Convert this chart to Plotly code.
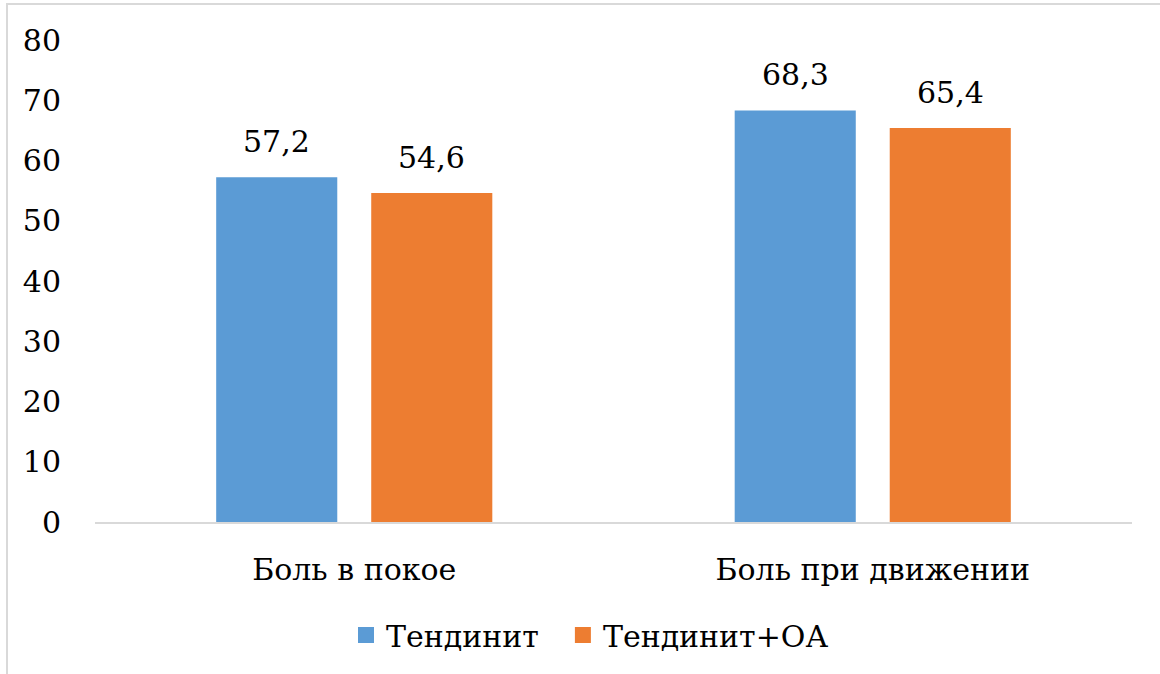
import plotly.graph_objects as go

categories = ["Боль в покое", "Боль при движении"]
series_names = ["Тендинит", "Тендинит+ОА"]
tendinitis = [57.2, 68.3]
tendinitis_oa = [54.6, 65.4]
y_ticks = [0, 10, 20, 30, 40, 50, 60, 70, 80]

colors = ["#5B9BD5", "#ED7D31"]
font_family = "DejaVu Serif"
fsize = 30

W, H = 1160, 674
L, R, T, B = 95, 28, 40, 152

fig = go.Figure()
series = [tendinitis, tendinitis_oa]
for name, vals, col in zip(series_names, series, colors):
    fig.add_trace(go.Bar(
        x=categories, y=vals, name=name, showlegend=False,
        marker=dict(color=col, line=dict(width=0)),
    ))

# legend entries with larger square swatches; extra padding between entries
for i, (name, col) in enumerate(zip(series_names, colors)):
    pad = "\u00a0\u00a0" if i < len(series_names) - 1 else ""
    fig.add_trace(go.Scatter(
        x=[None], y=[None], name=name + pad, mode="markers",
        marker=dict(symbol="square", size=16, color=col),
    ))

# value labels above each bar
slot_px = 77.5
for i, vals in enumerate(series):
    shift = -slot_px if i == 0 else slot_px
    for cat, v in zip(categories, vals):
        fig.add_annotation(
            x=cat, y=v, xref="x", yref="y", text=f"{v:.1f}".replace(".", ","),
            showarrow=False, xshift=shift, yanchor="bottom", yshift=16,
            font=dict(family=font_family, size=fsize, color="#000000"),
        )

# outer chart frame (pixel positions mapped to paper coordinates)
pw, ph = W - L - R, H - T - B
def px_x(p): return (p - L) / pw
def px_y(p): return (H - B - p) / ph

fig.add_shape(type="rect", xref="paper", yref="paper",
              x0=px_x(7), x1=px_x(1175), y0=px_y(690), y1=px_y(4),
              line=dict(color="#D9D9D9", width=2), fillcolor="rgba(0,0,0,0)")

fig.update_layout(
    width=W, height=H,
    margin=dict(l=L, r=R, t=T, b=B),
    paper_bgcolor="white", plot_bgcolor="white",
    barmode="group", bargap=0.402, bargroupgap=0.219,
    font=dict(family=font_family, size=fsize, color="#000000"),
    showlegend=True,
    legend=dict(orientation="h", x=px_x(590), xanchor="center", y=px_y(635), yanchor="middle",
                font=dict(family=font_family, size=fsize, color="#000000"),
                itemwidth=30, itemsizing="trace", traceorder="normal"),
    xaxis=dict(showgrid=False, showline=True, linecolor="#D9D9D9", linewidth=2,
               ticks="", tickfont=dict(family=font_family, size=fsize), ticklabelstandoff=20),
    yaxis=dict(range=[0, 80], tickvals=y_ticks, showgrid=False, zeroline=False,
               showline=False, ticks="", tickfont=dict(family=font_family, size=fsize),
               ticklabelstandoff=33),
)

fig.write_html("out.html")
